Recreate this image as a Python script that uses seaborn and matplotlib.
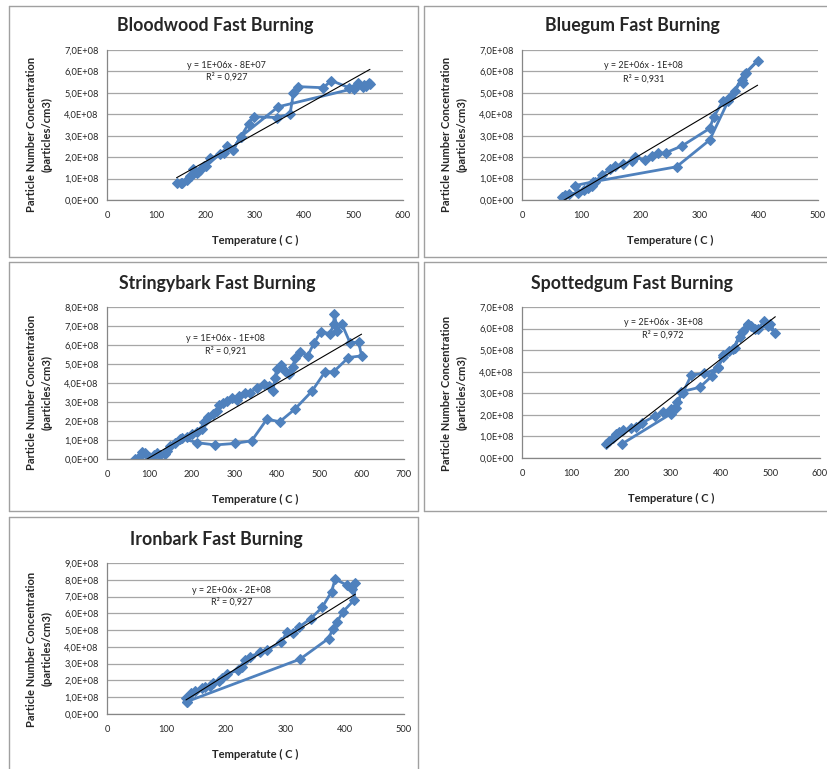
import numpy as np
import pandas as pd
import matplotlib
matplotlib.use('Agg')
import matplotlib.pyplot as plt
import seaborn as sns
from matplotlib.lines import Line2D
from matplotlib.ticker import FuncFormatter

# ----- data (y in units of 1e8 particles/cm3) -----
bloodwood_t = [141, 153, 162, 169, 174, 182, 189, 197, 209, 237, 243, 255, 271, 287, 297,
               344, 371, 378, 388, 438, 455, 491, 509, 519, 526, 531, 533,
               520, 500, 347, 271, 255, 230, 200, 185, 170, 150]
bloodwood_c = [0.78, 0.81, 0.93, 1.12, 1.43, 1.24, 1.40, 1.60, 1.94, 2.20, 2.52, 2.33, 2.95, 3.55, 3.89,
               3.85, 4.01, 5.00, 5.29, 5.24, 5.57, 5.24, 5.44, 5.29, 5.32, 5.44, 5.40,
               5.35, 5.20, 4.35, 2.95, 2.35, 2.15, 1.60, 1.30, 1.10, 0.80]

bluegum_t = [67, 73, 79, 95, 104, 112, 118, 124, 135, 149, 157, 171, 185, 191, 207, 219, 229, 243,
             270, 317, 324, 340, 351, 360, 371, 374, 379, 398,
             376, 348, 317, 261, 120, 89]
bluegum_c = [0.16, 0.23, 0.28, 0.34, 0.47, 0.54, 0.65, 0.86, 1.17, 1.43, 1.60, 1.66, 1.82, 1.99, 1.87, 2.05, 2.18, 2.21,
             2.52, 3.34, 3.89, 4.63, 4.82, 5.10, 5.60, 5.44, 5.94, 6.50,
             5.90, 4.60, 2.80, 1.55, 0.85, 0.67]

stringy_t = [67, 75, 82, 90, 98, 110, 118, 126, 137, 141, 149, 161, 173, 188, 200, 212, 224, 229,
             239, 251, 259, 263, 273, 283, 294, 306, 310, 326, 338, 353, 369, 381, 391, 396, 400,
             410, 420, 430, 438, 443, 454, 473, 488, 504, 526, 534, 536, 543, 553, 573, 593, 600,
             569, 534, 514, 483, 443, 407, 377, 341, 302, 255, 212, 176]
stringy_c = [0.00, 0.12, 0.39, 0.30, 0.12, 0.21, 0.33, 0.21, 0.26, 0.44, 0.70, 0.86, 1.03, 1.17, 1.31, 1.40, 1.56, 1.96,
             2.22, 2.35, 2.54, 2.84, 2.96, 3.06, 3.19, 3.10, 3.31, 3.45, 3.49, 3.75, 3.94, 3.84, 3.59, 4.24, 4.73,
             4.94, 4.64, 4.50, 4.85, 5.29, 5.64, 5.43, 6.11, 6.69, 6.60, 7.09, 7.62, 6.74, 7.13, 6.11, 6.16, 5.43,
             5.34, 4.59, 4.59, 3.57, 2.63, 1.96, 2.10, 0.96, 0.82, 0.74, 0.86, 1.09]

spotted_t = [170, 176, 183, 190, 196, 203, 219, 230, 241, 268, 283, 300, 313, 324, 341, 367, 394, 404,
             417, 428, 438, 444, 455, 461, 475, 488, 500, 510,
             495, 470, 456, 442, 425, 405, 395, 382, 358, 321, 311, 300, 201]
spotted_c = [0.66, 0.77, 0.92, 1.10, 1.20, 1.28, 1.38, 1.45, 1.62, 1.95, 2.15, 2.25, 2.60, 3.03, 3.85, 3.92, 4.15, 4.69,
             4.97, 5.12, 5.62, 5.88, 6.20, 6.11, 6.00, 6.34, 6.20, 5.80,
             6.10, 6.00, 6.16, 5.86, 5.05, 4.77, 4.20, 3.79, 3.28, 3.07, 2.30, 2.05, 0.65]

ironbark_t = [134, 133, 141, 148, 160, 165, 174, 179, 188, 193, 202, 220, 227, 233, 240, 258, 269,
              293, 303, 313, 324, 343, 362, 378, 384, 404, 412, 418, 416,
              397, 387, 380, 373, 325, 134]
ironbark_c = [0.73, 0.97, 1.23, 1.37, 1.57, 1.63, 1.69, 1.83, 1.98, 2.12, 2.36, 2.62, 2.82, 3.21, 3.41, 3.67, 3.81,
              4.27, 4.90, 4.80, 5.20, 5.69, 6.35, 7.28, 8.04, 7.68, 7.48, 7.78, 6.79,
              6.09, 5.46, 5.06, 4.50, 3.27, 0.73]

titles = ['Bloodwood Fast Burning', 'Bluegum Fast Burning', 'Stringybark Fast Burning',
          'Spottedgum Fast Burning', 'Ironbark Fast Burning']
xlabels = ['Temperature ( C )', 'Temperature ( C )', 'Temperature ( C )',
           'Temperature ( C )', 'Temperatute ( C )']
equations = ['y = 1E+06x - 8E+07', 'y = 2E+06x - 1E+08', 'y = 1E+06x - 1E+08',
             'y = 2E+06x - 3E+08', 'y = 2E+06x - 2E+08']
r2_labels = ['R² = 0,927', 'R² = 0,931', 'R² = 0,921', 'R² = 0,972', 'R² = 0,927']
# trend line slope / intercept as drawn
trend_slope = [1.29e6, 1.64e6, 1.30e6, 1.79e6, 2.21e6]
trend_icpt = [-7.8e7, -1.17e8, -1.23e8, -2.58e8, -2.10e8]
x_max = [600, 500, 700, 600, 500]
y_max = [7, 7, 8, 7, 9]

series = [(bloodwood_t, bloodwood_c), (bluegum_t, bluegum_c), (stringy_t, stringy_c),
          (spotted_t, spotted_c), (ironbark_t, ironbark_c)]

# ----- style -----
sns.set_style('white')
plt.rcParams['font.family'] = ['Lato', 'DejaVu Sans']

W, H = 828, 769
fig = plt.figure(figsize=(W / 100, H / 100), dpi=100)

# pixel layout: (axes left, right, top, bottom), cell (left, right, top, bottom)
ax_px = [(107, 403, 50, 200), (522, 818, 50, 200), (107, 404, 307, 459),
         (522, 820, 307, 458), (107, 404, 563, 714)]
cell_px = [(9, 418, 6, 257), (424, 840, 6, 257), (9, 418, 262, 511),
           (424, 840, 262, 511), (9, 418, 517, 780)]
title_pos = [(215, 25), (632, 25), (217, 283), (632, 283), (216, 540)]
ylab_y = [134, 134, 392, 393, 649]
eq_pos = [(0.405, 0.90, 0.82), (0.41, 0.895, 0.807), (0.40, 0.794, 0.713),
          (0.473, 0.90, 0.815), (0.42, 0.82, 0.74)]

blue = '#4F81BD'
fmt = FuncFormatter(lambda v, p: f'{v:.1E}'.replace('.', ','))

for i in range(5):
    l, r, t, b = ax_px[i]
    ax = fig.add_axes([l / W, 1 - b / H, (r - l) / W, (b - t) / H])
    x, y = series[i]
    df = pd.DataFrame({'t': x, 'c': np.array(y) * 1e8})
    sns.lineplot(data=df, x='t', y='c', sort=False, estimator=None, marker='D',
                 color=blue, linewidth=2, markersize=5, markeredgecolor=blue, ax=ax)
    xt = np.array([min(x), max(x)], dtype=float)
    ax.plot(xt, trend_slope[i] * xt + trend_icpt[i], color='black', lw=0.8)

    ax.set_xlim(0, x_max[i])
    ax.set_ylim(0, y_max[i] * 1e8)
    ax.set_xticks(np.arange(0, x_max[i] + 1, 100))
    ax.set_yticks(np.arange(0, y_max[i] + 1) * 1e8)
    ax.yaxis.set_major_formatter(fmt)
    ax.grid(axis='y', color='#a6a6a6', lw=0.9)
    ax.set_axisbelow(True)
    for s in ['top', 'right']:
        ax.spines[s].set_visible(False)
    for s in ['left', 'bottom']:
        ax.spines[s].set_color('#868686')
        ax.spines[s].set_linewidth(0.9)
    ax.tick_params(axis='both', labelsize=6.7, length=3, color='#868686', direction='out')
    ax.tick_params(axis='x', pad=5)
    ax.tick_params(axis='y', pad=3)
    ax.set_xlabel('')
    ax.set_ylabel('')

    ax.text(eq_pos[i][0], eq_pos[i][1], equations[i], transform=ax.transAxes,
            ha='center', va='center', fontsize=6.5)
    ax.text(eq_pos[i][0], eq_pos[i][2], r2_labels[i], transform=ax.transAxes,
            ha='center', va='center', fontsize=6.5)

    tx, ty = title_pos[i]
    fig.text(tx / W, 1 - ty / H, titles[i], ha='center', va='center',
             fontsize=12.8, fontweight='bold')
    fig.text(((l + r) / 2) / W, 1 - (b + 40) / H, xlabels[i], ha='center', va='center',
             fontsize=8, fontweight='bold')
    fig.text((l - 75) / W, 1 - ylab_y[i] / H, 'Particle Number Concentration',
             rotation=90, ha='center', va='center', fontsize=8, fontweight='bold')
    fig.text((l - 60) / W, 1 - ylab_y[i] / H, '(particles/cm3)',
             rotation=90, ha='center', va='center', fontsize=8, fontweight='bold')

    cl, cr, ct, cb = cell_px[i]
    for (xa, ya) in [((cl, cr), (ct, ct)), ((cl, cr), (cb, cb)),
                     ((cl, cl), (ct, cb)), ((cr, cr), (ct, cb))]:
        fig.add_artist(Line2D([xa[0] / W, xa[1] / W], [1 - ya[0] / H, 1 - ya[1] / H],
                              color='#a0a0a0', lw=1))

fig.savefig('out.png', dpi=100)
